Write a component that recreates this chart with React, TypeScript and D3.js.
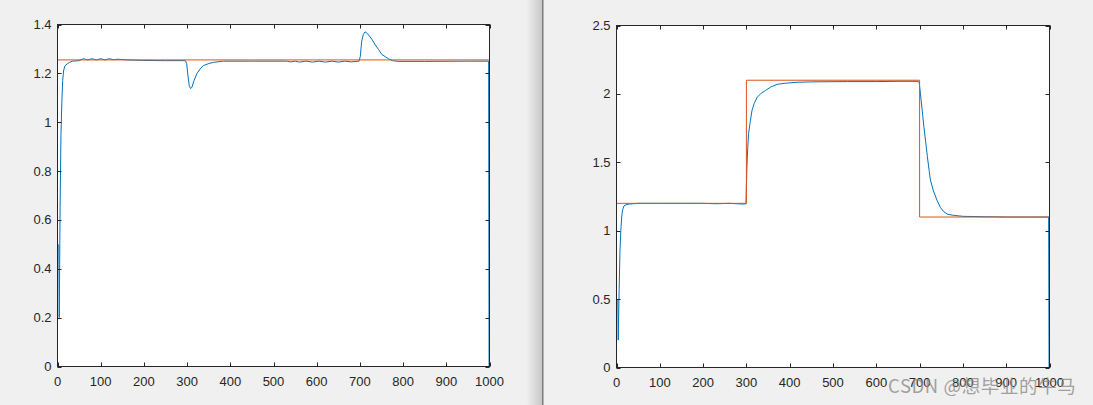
import React from "react";
import * as d3 from "d3";

// ---- data ----
const xTicks = [0, 100, 200, 300, 400, 500, 600, 700, 800, 900, 1000];
const leftYTicks = [0, 0.2, 0.4, 0.6, 0.8, 1, 1.2, 1.4];
const rightYTicks = [0, 0.5, 1, 1.5, 2, 2.5];

const leftRefX = [0, 1000];
const leftRefY = [1.255, 1.255];

const leftOutX = [3, 4, 6, 8, 10, 12, 14, 17, 22, 28, 35, 50, 60, 70, 80, 90, 100, 110, 120, 130, 140, 160, 180, 200, 250, 296, 299, 302, 305, 308, 311, 316, 323, 330, 338, 350, 361, 384, 450, 530, 540, 550, 560, 575, 590, 605, 620, 635, 650, 665, 680, 698, 701, 704, 708, 712, 718, 728, 735, 743, 751, 759, 766, 775, 790, 850, 950, 998, 999];
const leftOutY = [0.5, 0.2, 0.65, 0.95, 1.08, 1.17, 1.21, 1.23, 1.238, 1.245, 1.25, 1.252, 1.26, 1.255, 1.26, 1.255, 1.26, 1.255, 1.26, 1.256, 1.258, 1.255, 1.254, 1.253, 1.252, 1.252, 1.24, 1.19, 1.15, 1.138, 1.142, 1.17, 1.2, 1.218, 1.232, 1.24, 1.245, 1.25, 1.25, 1.25, 1.247, 1.25, 1.246, 1.25, 1.246, 1.25, 1.246, 1.25, 1.246, 1.25, 1.247, 1.25, 1.27, 1.33, 1.36, 1.37, 1.362, 1.339, 1.318, 1.298, 1.277, 1.268, 1.26, 1.252, 1.249, 1.249, 1.25, 1.25, 0];

const rightRefX = [0, 300, 300, 700, 700, 1000];
const rightRefY = [1.2, 1.2, 2.1, 2.1, 1.1, 1.1];

const rightOutX = [3, 4, 6, 8, 10, 12, 14, 17, 22, 30, 50, 100, 150, 200, 230, 260, 290, 299, 301, 303, 305, 309, 313, 318, 325, 334, 344, 356, 371, 390, 417, 450, 533, 600, 650, 694, 699, 702, 706, 710, 714, 718, 722, 725, 732, 740, 748, 756, 765, 779, 800, 850, 900, 950, 998, 999];
const rightOutY = [0.5, 0.2, 0.55, 0.85, 1.0, 1.1, 1.15, 1.18, 1.19, 1.195, 1.2, 1.2, 1.2, 1.2, 1.197, 1.2, 1.195, 1.196, 1.45, 1.6, 1.71, 1.8, 1.88, 1.93, 1.976, 2.005, 2.025, 2.05, 2.07, 2.078, 2.085, 2.088, 2.09, 2.09, 2.092, 2.092, 2.085, 2.0, 1.88, 1.757, 1.65, 1.54, 1.44, 1.37, 1.29, 1.224, 1.17, 1.138, 1.12, 1.112, 1.105, 1.102, 1.1, 1.1, 1.1, 0];

const BLUE = "#0072BD";
const ORANGE = "#D95319";
const AXIS = "#262626";
const FONT = "'Liberation Sans', Arial, Helvetica, sans-serif";

type PanelProps = {
  x0: number; x1: number; y0: number; y1: number;
  yMax: number; yTicks: number[];
  outX: number[]; outY: number[]; refX: number[]; refY: number[];
};

function Panel({ x0, x1, y0, y1, yMax, yTicks, outX, outY, refX, refY }: PanelProps) {
  const xs = d3.scaleLinear().domain([0, 1000]).range([x0, x1]);
  const ys = d3.scaleLinear().domain([0, yMax]).range([y1, y0]);
  const line = d3.line<[number, number]>().x((d) => xs(d[0])).y((d) => ys(d[1]));
  const outPts = outX.map((x, i) => [x, outY[i]] as [number, number]);
  const refPts = refX.map((x, i) => [x, refY[i]] as [number, number]);
  const tl = 4;
  const fmt = (v: number) => String(v);
  return (
    <g>
      <rect x={x0} y={y0} width={x1 - x0} height={y1 - y0} fill="#ffffff" />
      <defs>
        <clipPath id={`clip${x0}`}>
          <rect x={x0} y={y0 - 1} width={x1 - x0 + 1} height={y1 - y0 + 2} />
        </clipPath>
      </defs>
      <g clipPath={`url(#clip${x0})`}>
        <path d={line(outPts) || ""} fill="none" stroke={BLUE} strokeWidth={1} />
        <path d={line(refPts) || ""} fill="none" stroke={ORANGE} strokeWidth={1} />
      </g>
      <rect x={x0} y={y0} width={x1 - x0} height={y1 - y0} fill="none" stroke={AXIS} strokeWidth={1} />
      {xTicks.map((t) => {
        const x = Math.round(xs(t)) + 0.5;
        return (
          <g key={"x" + t}>
            <line x1={x} x2={x} y1={y1} y2={y1 - tl} stroke={AXIS} />
            <line x1={x} x2={x} y1={y0} y2={y0 + tl} stroke={AXIS} />
            <text x={xs(t)} y={y1 + 19.5} textAnchor="middle" fontSize={13} fill={AXIS} fontFamily={FONT}>
              {fmt(t)}
            </text>
          </g>
        );
      })}
      {yTicks.map((t) => {
        const y = Math.round(ys(t)) + 0.5;
        return (
          <g key={"y" + t}>
            <line x1={x0} x2={x0 + tl} y1={y} y2={y} stroke={AXIS} />
            <line x1={x1} x2={x1 - tl} y1={y} y2={y} stroke={AXIS} />
            <text x={x0 - 6} y={ys(t) + 4.5} textAnchor="end" fontSize={13} fill={AXIS} fontFamily={FONT}>
              {fmt(t)}
            </text>
          </g>
        );
      })}
    </g>
  );
}

export default function App() {
  return (
    <svg
      width={1093}
      height={405}
      style={{ position: "fixed", left: 0, top: 0, display: "block" }}
    >
      <defs>
        <linearGradient id="shadow" x1="0" x2="1" y1="0" y2="0">
          <stop offset="0" stopColor="#f0f0f0" />
          <stop offset="1" stopColor="#c8c8c8" />
        </linearGradient>
      </defs>
      <rect x={0} y={0} width={1093} height={405} fill="#f0f0f0" />
      <rect x={526} y={0} width={16} height={405} fill="url(#shadow)" />
      <rect x={542} y={0} width={1.5} height={405} fill="#7c7c7c" />
      <Panel x0={57.5} x1={489.5} y0={24.5} y1={366.5} yMax={1.4} yTicks={leftYTicks}
        outX={leftOutX} outY={leftOutY} refX={leftRefX} refY={leftRefY} />
      <Panel x0={616.5} x1={1049.5} y0={25.5} y1={367.5} yMax={2.5} yTicks={rightYTicks}
        outX={rightOutX} outY={rightOutY} refX={rightRefX} refY={rightRefY} />
      <text x={888} y={393} fontSize={18.5} letterSpacing={0.6} fill="#8a8a8a" fillOpacity={0.8}
        fontFamily="'Noto Sans CJK SC', 'Noto Sans', sans-serif">
        CSDN @想毕业的牛马
      </text>
    </svg>
  );
}
